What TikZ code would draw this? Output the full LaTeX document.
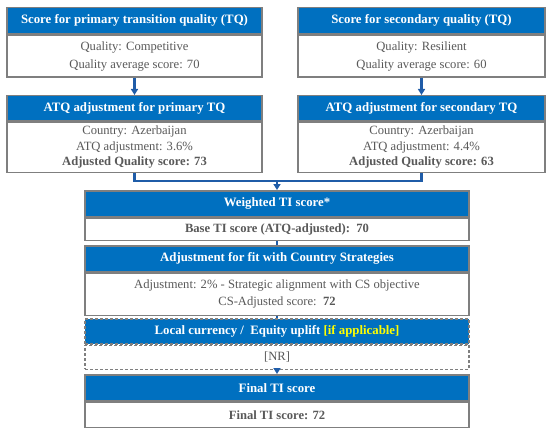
\documentclass[tikz,border=0pt]{standalone}
\usepackage{fontspec}
\setmainfont{Liberation Serif}
\usetikzlibrary{arrows.meta, positioning, calc}
\definecolor{hdrblue}{HTML}{0070C0}
\definecolor{lnblue}{HTML}{1F5CA8}
\definecolor{boxgray}{HTML}{7F7F7F}
\definecolor{txtgray}{HTML}{595959}
\definecolor{hilite}{HTML}{FFFF00}

\begin{document}
\begin{tikzpicture}[x=1pt, y=-1pt,
    hdr/.style={rectangle, fill=hdrblue, draw=boxgray, line width=1.5pt, inner sep=0pt,
      text=white, font=\fontsize{12.8}{14}\selectfont\bfseries, anchor=north},
    bodybox/.style={rectangle, fill=white, draw=boxgray, line width=1.5pt, inner sep=0pt,
      text=txtgray, align=center, font=\fontsize{12.6}{18}\selectfont},
    conn/.style={draw=lnblue, line width=2.2pt},
    tip/.style={-{Triangle[length=6pt, width=7pt]}},
    dashline/.style={dash pattern=on 3pt off 2pt}]
        \useasboundingbox (0, 0) rectangle (554, 433);

        % top row
        \node[hdr, minimum width=255pt, minimum height=26pt] (qa) at (134.5, 7) {Score for primary transition quality (TQ)};
        \node[bodybox, minimum width=255pt, minimum height=42pt, below=0pt of qa] (qab) {Quality: Competitive\\Quality average score: 70};
        \node[hdr, minimum width=247pt, minimum height=26pt] (qb) at (421.5, 7) {Score for secondary quality (TQ)};
        \node[bodybox, minimum width=247pt, minimum height=42pt, below=0pt of qb] (qbb) {Quality: Resilient\\Quality average score: 60};

        % ATQ row
        \node[hdr, minimum width=255pt, minimum height=25pt] (aa) at (134.5, 95) {ATQ adjustment for primary TQ};
        \node[bodybox, minimum width=255pt, minimum height=50pt, below=0pt of aa,
          font=\fontsize{12.6}{15.5}\selectfont] (aab) {Country: Azerbaijan\\ATQ adjustment: 3.6\%\\\textbf{Adjusted Quality score: 73}};
        \node[hdr, minimum width=247pt, minimum height=25pt] (ab) at (421.5, 95) {ATQ adjustment for secondary TQ};
        \node[bodybox, minimum width=247pt, minimum height=50pt, below=0pt of ab,
          font=\fontsize{12.6}{15.5}\selectfont] (abb) {Country: Azerbaijan\\ATQ adjustment: 4.4\%\\\textbf{Adjusted Quality score: 63}};

        % centre column
        \node[hdr, minimum width=384pt, minimum height=26pt] (wt) at (277, 190) {Weighted TI score*};
        \node[bodybox, minimum width=384pt, minimum height=22pt, below=0pt of wt] (wtb) {\textbf{Base TI score (ATQ-adjusted):\ \ 70}};
        \node[hdr, minimum width=384pt, minimum height=26pt] (cs) at (277, 245) {Adjustment for fit with Country Strategies};
        \node[bodybox, minimum width=384pt, minimum height=42pt, below=0pt of cs,
          font=\fontsize{12.6}{17}\selectfont] (csb) {Adjustment: 2\% - Strategic alignment with CS objective\\CS-Adjusted score:\ \ \textbf{72}};
        \node[hdr, dashline, minimum width=384pt, minimum height=25pt] (lc) at (277, 318) {Local currency /\ \ Equity uplift \textcolor{hilite}{[if applicable]}};
        \node[bodybox, dashline, minimum width=384pt, minimum height=24pt, below=0pt of lc] (lcb) {[NR]};
        \node[hdr, minimum width=384pt, minimum height=26pt] (fn) at (277, 374) {Final TI score};
        \node[bodybox, minimum width=384pt, minimum height=25pt, below=0pt of fn] (fnb) {\textbf{Final TI score: 72}};

        % connectors
        \coordinate (jn) at (277, 181);
        \draw[conn, tip] (qab.south) -- (aa.north);
        \draw[conn, tip] (qbb.south) -- (ab.north);
        \draw[conn] (aab.south) |- (jn);
        \draw[conn] (abb.south) |- (jn);
        \draw[conn, tip] (jn) -- (wt.north);
        \draw[conn] (wtb.south) -- (cs.north);
        \draw[conn] (csb.south) -- (lc.north);
        \draw[conn, tip] (lcb.south) -- (fn.north);
      \end{tikzpicture}
\end{document}
